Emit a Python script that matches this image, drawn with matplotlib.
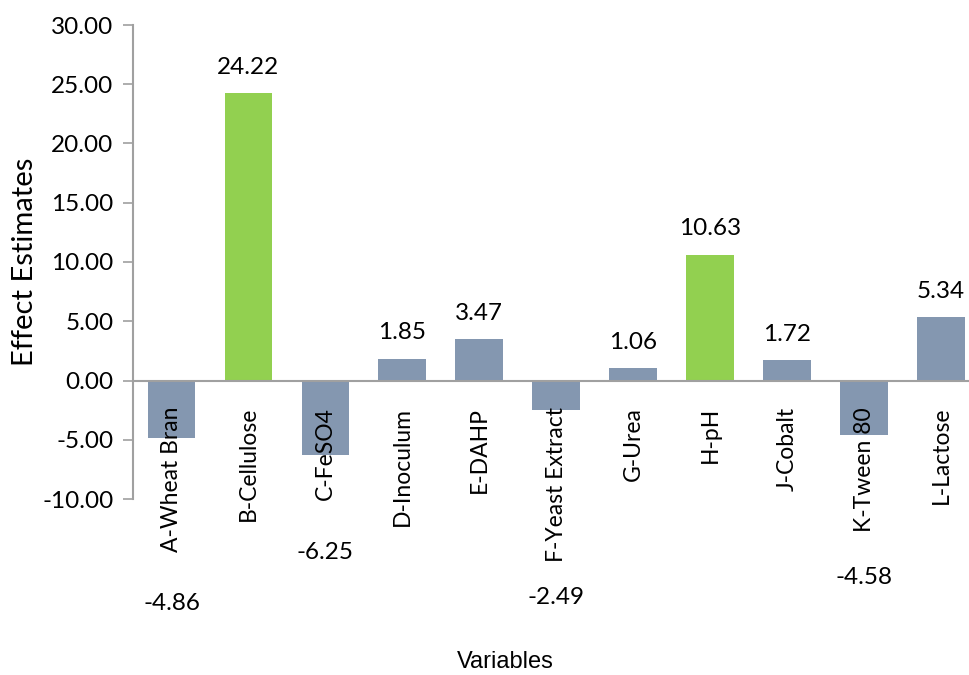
import matplotlib.pyplot as plt

plt.rcParams['font.family'] = ['Lato', 'DejaVu Sans']

variables = ['A-Wheat Bran', 'B-Cellulose', 'C-FeSO4', 'D-Inoculum', 'E-DAHP',
             'F-Yeast Extract', 'G-Urea', 'H-pH', 'J-Cobalt', 'K-Tween 80', 'L-Lactose']
effects = [-4.86, 24.22, -6.25, 1.85, 3.47, -2.49, 1.06, 10.63, 1.72, -4.58, 5.34]
significant = [False, True, False, False, False, False, False, True, False, False, False]
# where the value labels of the negative bars sit (below the category names)
neg_label_y = {0: -18.8, 2: -14.5, 5: -18.3, 9: -16.6}

fig = plt.figure(figsize=(9.69, 6.75), dpi=100)
ax = fig.add_axes([133 / 969, 176 / 675, 846.5 / 969, 474 / 675])
ax.set_axisbelow(False)

colors = ['#92D050' if s else '#8497B0' for s in significant]
x = range(len(variables))
bars = ax.bar(x, effects, width=0.62, color=colors, zorder=2)

ax.set_xlim(-0.5, len(variables) - 0.5)
ax.set_ylim(-10, 30)
ax.set_yticks(range(-10, 31, 5))
ax.set_yticklabels([f'{v:.2f}' for v in range(-10, 31, 5)], fontsize=17.5)

ax.spines['top'].set_visible(False)
ax.spines['right'].set_visible(False)
ax.spines['bottom'].set_position(('data', 0))
ax.spines['bottom'].set_color('#A0A0A0')
ax.spines['bottom'].set_linewidth(1.5)
ax.spines['left'].set_color('#A0A0A0')
ax.spines['left'].set_linewidth(1.5)
ax.tick_params(axis='y', length=7, width=1.2, color='#A0A0A0', pad=7)

ax.set_xticks(list(x))
ax.set_xticklabels(variables, rotation=90, fontsize=16.5)
ax.tick_params(axis='x', length=0, pad=19)

for i, (b, v) in enumerate(zip(bars, effects)):
    cx = b.get_x() + b.get_width() / 2
    if v >= 0:
        ax.annotate(f'{v:.2f}', (cx, v), xytext=(0, 11), textcoords='offset points',
                    ha='center', va='bottom', fontsize=17.5)
    else:
        ax.text(cx, neg_label_y[i], f'{v:.2f}', ha='center', va='center', fontsize=17.5)

fig.text(25 / 969, 1 - 262 / 675, 'Effect Estimates', rotation=90, ha='center', va='center', fontsize=21)
fig.text(505 / 969, 1 - 662 / 675, 'Variables', ha='center', va='center', fontsize=17,
         family='Liberation Sans')

fig.savefig('out.png', dpi=100)
